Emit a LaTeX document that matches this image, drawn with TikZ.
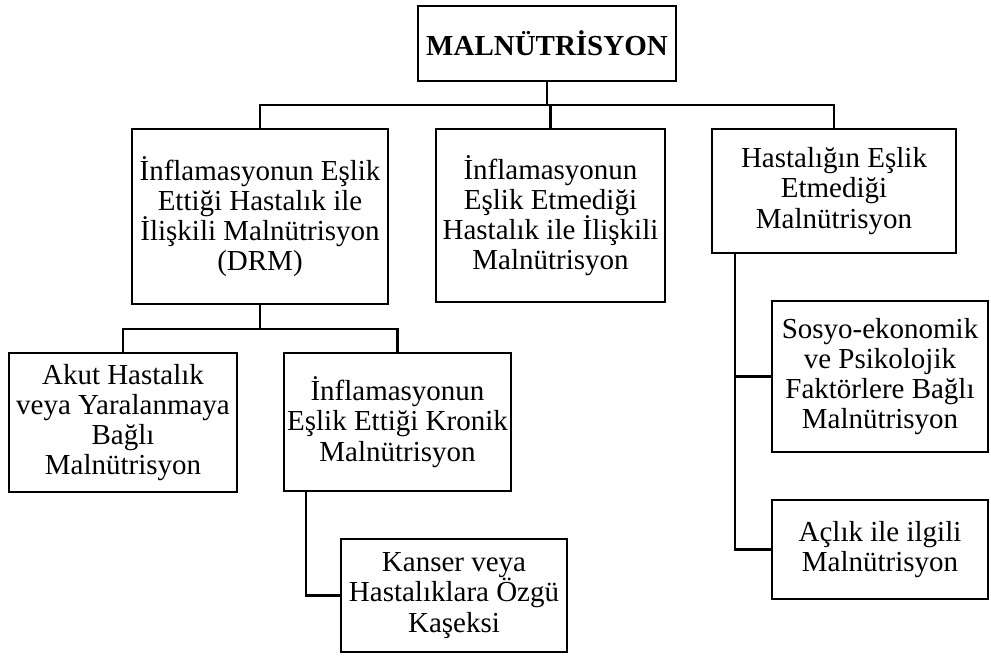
\documentclass[tikz,border=0pt]{standalone}
\usepackage{fontspec}
\setmainfont{Liberation Serif}
\usetikzlibrary{positioning}
\tikzset{
    malbox/.style={draw, line width=1.4pt, align=center, inner sep=0pt, font=\fontsize{16.5}{17.2}\selectfont},
    maltitle/.style={malbox, font=\fontsize{16.5}{17.2}\selectfont\bfseries},
    malline/.style={line width=1.4pt}
}

\begin{document}
\begin{tikzpicture}[x=0.02cm, y=-0.02cm]
        \useasboundingbox (0,0) rectangle (991,657);

        \node[maltitle, minimum width=5.16cm, minimum height=1.5cm] (malnutrisyon) at (547,43.5) {MALNÜTRİSYON};
        \node[malbox, minimum width=5.12cm, minimum height=3.5cm] (drm) at (260,216.5) {İnflamasyonun Eşlik\\Ettiği Hastalık ile\\İlişkili Malnütrisyon\\(DRM)};
        \node[malbox, minimum width=4.58cm, minimum height=3.46cm] (inflsiz) at (550.5,215.5) {İnflamasyonun\\Eşlik Etmediği\\Hastalık ile İlişkili\\Malnütrisyon};
        \node[malbox, minimum width=4.88cm, minimum height=2.48cm] (hastsiz) at (834,191) {Hastalığın Eşlik\\Etmediği\\Malnütrisyon};

        \node[malbox, minimum width=4.56cm, minimum height=2.78cm] (akut) at (123,422.5) {Akut Hastalık\\veya Yaralanmaya\\Bağlı\\Malnütrisyon};
        \node[malbox, minimum width=4.54cm, minimum height=2.76cm] (kronik) at (397.5,422) {İnflamasyonun\\Eşlik Ettiği Kronik\\Malnütrisyon};
        \node[malbox, minimum width=4.52cm, minimum height=2.26cm] (kanser) at (454,595.5) {Kanser veya\\Hastalıklara Özgü\\Kaşeksi};

        \node[malbox, minimum width=4.32cm, minimum height=3.02cm] (sosyo) at (880,376.5) {Sosyo-ekonomik\\ve Psikolojik\\Faktörlere Bağlı\\Malnütrisyon};
        \node[malbox, minimum width=4.32cm, minimum height=1.98cm] (aclik) at (880,549.5) {Açlık ile ilgili\\Malnütrisyon};

        \coordinate (bus) at (547,105);
        \coordinate (drmbus) at (260,329);
        \coordinate (kronikkol) at ([xshift=0.46cm]kronik.south west);
        \coordinate (hastkol) at ([xshift=0.48cm]hastsiz.south west);

        \draw[malline] (malnutrisyon) -- (bus);
        \draw[malline] (drm.north) |- (bus) -| (hastsiz.north);
        \draw[malline] (inflsiz) -- (inflsiz |- bus);
        \draw[malline] (drm) -- (drmbus);
        \draw[malline] (akut.north) |- (drmbus) -| (kronik.north);
        \draw[malline] (kronikkol) |- (kanser.west);
        \draw[malline] (hastkol) |- (aclik.west);
        \draw[malline] (sosyo.west) -- (sosyo.west -| hastkol);
    \end{tikzpicture}
\end{document}
